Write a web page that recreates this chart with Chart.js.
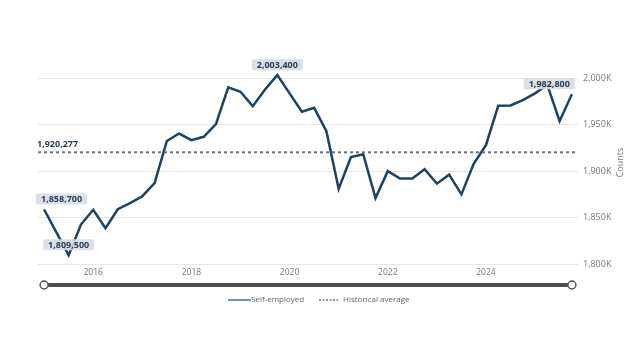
<!DOCTYPE html>
<html>
<head>
<meta charset="utf-8">
<script src="https://cdn.jsdelivr.net/npm/chart.js@4.4.1/dist/chart.umd.min.js"></script>
<style>
html,body{margin:0;padding:0;background:#fff;}
#wrap{width:636px;height:362px;position:relative;}
</style>
</head>
<body>
<div id="wrap"><canvas id="c" width="636" height="362"></canvas></div>
<script>
const quarters = [
  "2015 Q1","2015 Q2","2015 Q3","2015 Q4",
  "2016 Q1","2016 Q2","2016 Q3","2016 Q4",
  "2017 Q1","2017 Q2","2017 Q3","2017 Q4",
  "2018 Q1","2018 Q2","2018 Q3","2018 Q4",
  "2019 Q1","2019 Q2","2019 Q3","2019 Q4",
  "2020 Q1","2020 Q2","2020 Q3","2020 Q4",
  "2021 Q1","2021 Q2","2021 Q3","2021 Q4",
  "2022 Q1","2022 Q2","2022 Q3","2022 Q4",
  "2023 Q1","2023 Q2","2023 Q3","2023 Q4",
  "2024 Q1","2024 Q2","2024 Q3","2024 Q4",
  "2025 Q1","2025 Q2","2025 Q3","2025 Q4"
];
const selfEmployed = [
  1858700, 1834100, 1809500, 1842500,
  1858400, 1838500, 1859000, 1865500,
  1873000, 1887000, 1932500, 1940500,
  1933300, 1937000, 1950600, 1990300,
  1985500, 1970000, 1988000, 2003400,
  1983800, 1963900, 1968200, 1943000,
  1881000, 1915200, 1918200, 1871000,
  1900000, 1892000, 1892200, 1902000,
  1886500, 1896200, 1875000, 1908000,
  1928000, 1970400, 1970800, 1976500,
  1983800, 1992800, 1953800, 1982800
];
const historicalAverage = 1920277;
const yTicks = [1800000, 1850000, 1900000, 1950000, 2000000];
const xTickYears = ["2016","2018","2020","2022","2024"];
const labelledPoints = [0, 2, 19, 43];
const seriesNames = ["Self-employed", "Historical average"];

const FONT = "'Open Sans', 'Noto Sans', sans-serif";
const LINE_COLOR = "#1e4262";
const AVG_COLOR = "#66708e";
const fmt = v => v.toLocaleString('en-US');

const extras = {
  id: 'extras',
  afterDatasetsDraw(chart) {
    const ctx = chart.ctx;
    const ca = chart.chartArea;
    const x = chart.scales.x, y = chart.scales.y;
    ctx.save();
    // historical average dashed line
    const ay = y.getPixelForValue(historicalAverage);
    ctx.strokeStyle = AVG_COLOR;
    ctx.lineWidth = 2;
    ctx.setLineDash([3, 3]);
    ctx.beginPath();
    ctx.moveTo(ca.left, ay);
    ctx.lineTo(ca.right, ay);
    ctx.stroke();
    ctx.setLineDash([]);
    ctx.fillStyle = "#2c3e55";
    ctx.font = "bold 9px " + FONT;
    ctx.textAlign = 'left';
    ctx.textBaseline = 'alphabetic';
    ctx.fillText(fmt(historicalAverage), ca.left - 1, ay - 5);

    // point labels
    ctx.font = "bold 9px " + FONT;
    labelledPoints.forEach((i) => {
      const v = selfEmployed[i];
      const px = x.getPixelForValue(i);
      const py = y.getPixelForValue(v);
      const txt = fmt(v);
      const w = ctx.measureText(txt).width + 10;
      const h = 11;
      let left = px - w / 2;
      if (left < ca.left - 2) left = ca.left - 2;
      if (i === selfEmployed.length - 1) left = px + 3 - w;
      const top = py - 5 - h;
      ctx.fillStyle = "rgba(214,220,230,0.9)";
      ctx.beginPath();
      ctx.roundRect(left, top, w, h, 2);
      ctx.fill();
      ctx.fillStyle = "#2c3e55";
      ctx.textAlign = 'center';
      ctx.textBaseline = 'middle';
      ctx.fillText(txt, left + w / 2, top + h / 2 + 0.5);
    });

    // y axis title
    ctx.save();
    ctx.translate(620, (ca.top + ca.bottom) / 2 - 4);
    ctx.rotate(-Math.PI / 2);
    ctx.fillStyle = "#777";
    ctx.font = "9px " + FONT;
    ctx.textAlign = 'center';
    ctx.textBaseline = 'middle';
    ctx.fillText("Counts", 0, 0);
    ctx.restore();

    // navigator slider
    const x0 = x.getPixelForValue(0), x1 = x.getPixelForValue(selfEmployed.length - 1);
    const sy = 285;
    ctx.strokeStyle = "#4d4d4d";
    ctx.lineWidth = 4;
    ctx.beginPath();
    ctx.moveTo(x0, sy);
    ctx.lineTo(x1, sy);
    ctx.stroke();
    [x0, x1].forEach(hx => {
      ctx.beginPath();
      ctx.arc(hx, sy, 4, 0, Math.PI * 2);
      ctx.fillStyle = "#fff";
      ctx.fill();
      ctx.lineWidth = 1.5;
      ctx.strokeStyle = "#555";
      ctx.stroke();
    });

    // legend
    const ly = 300;
    ctx.font = "8px " + FONT;
    ctx.textAlign = 'left';
    ctx.textBaseline = 'middle';
    ctx.strokeStyle = "#4e6f8e";
    ctx.lineWidth = 1.5;
    ctx.beginPath();
    ctx.moveTo(228, ly); ctx.lineTo(251, ly); ctx.stroke();
    ctx.fillStyle = "#666";
    ctx.fillText(seriesNames[0], 251, ly);
    ctx.strokeStyle = "#6a7493";
    ctx.setLineDash([2, 1.5]);
    ctx.beginPath();
    ctx.moveTo(319, ly); ctx.lineTo(338, ly); ctx.stroke();
    ctx.setLineDash([]);
    ctx.fillText(seriesNames[1], 343, ly);
    ctx.restore();
  }
};

new Chart(document.getElementById('c'), {
  type: 'line',
  data: {
    labels: quarters,
    datasets: [{
      label: seriesNames[0],
      data: selfEmployed,
      borderColor: LINE_COLOR,
      backgroundColor: LINE_COLOR,
      borderWidth: 2.5,
      pointRadius: 0,
      tension: 0,
      clip: false
    }]
  },
  options: {
    responsive: false,
    animation: false,
    layout: { padding: { left: 38, right: 8, top: 69, bottom: 78 } },
    plugins: { legend: { display: false }, tooltip: { enabled: false } },
    scales: {
      x: {
        type: 'category',
        offset: true,
        grid: { display: false, drawTicks: false },
        border: { display: false },
        ticks: {
          autoSkip: false,
          maxRotation: 0,
          padding: 3,
          color: '#777',
          font: { family: FONT, size: 8.5 },
          callback: function(val) {
            const lab = this.getLabelForValue(val);
            const yr = lab.slice(0, 4);
            return (lab.endsWith('Q1') && xTickYears.includes(yr)) ? yr : '';
          }
        },
        afterFit: s => { s.height = 20; }
      },
      y: {
        position: 'right',
        min: 1800000,
        max: 2010000,
        grid: { color: '#e6e6e6', lineWidth: 1, drawTicks: false },
        border: { display: false },
        afterBuildTicks: s => { s.ticks = yTicks.map(v => ({ value: v })); },
        ticks: {
          padding: 5,
          color: '#777',
          font: { family: FONT, size: 9 },
          callback: v => (v / 1000).toLocaleString('en-US') + 'K'
        },
        afterFit: s => { s.width = 50; }
      }
    }
  },
  plugins: [extras]
});
</script>
</body>
</html>
